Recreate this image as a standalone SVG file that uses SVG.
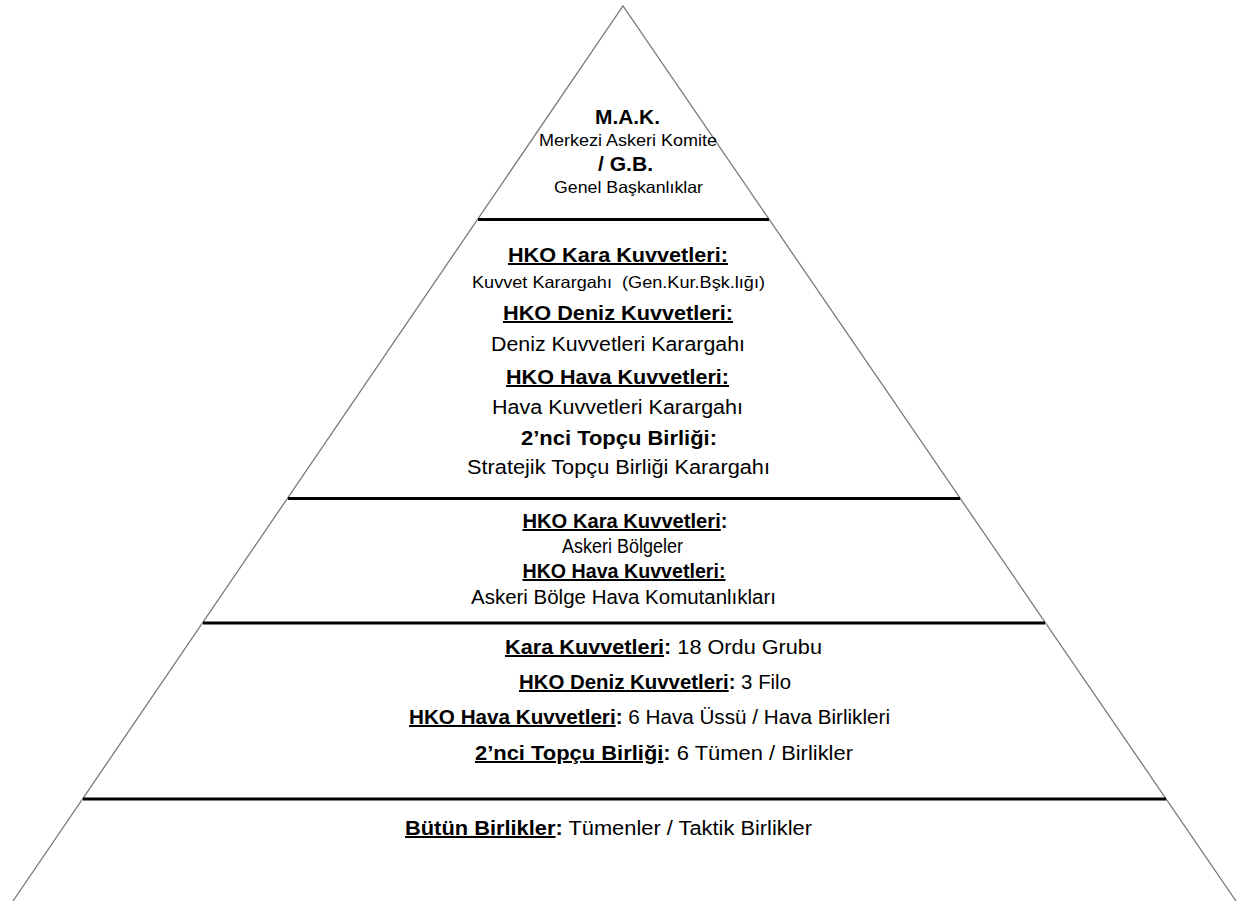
<svg xmlns="http://www.w3.org/2000/svg" width="1245" height="901" viewBox="0 0 1245 901">
<style>
text{font-family:"Liberation Sans",Arial,sans-serif;fill:#000;text-anchor:middle}
.b{font-weight:bold}
.u{text-decoration:underline}
.edge{fill:none;stroke:#7a7a7a;stroke-width:1.3}
.sep{stroke:#000;stroke-width:3;fill:none}
.s16{font-size:16.5px}
.s19{font-size:20px}
.s20{font-size:21px}
</style>
<rect width="1245" height="901" fill="#fff"/>
<g id="pyramid">
<polyline class="edge" points="13,901 623,6 1236,901"/>
<line class="sep" x1="478" y1="219.5" x2="769" y2="219.5"/>
<line class="sep" x1="288" y1="498.5" x2="960" y2="498.5"/>
<line class="sep" x1="203" y1="623" x2="1045" y2="623"/>
<line class="sep" x1="83" y1="799" x2="1166" y2="799"/>
</g>
<g id="level1">
<text class="s20 b" x="627.5" y="124" textLength="65" lengthAdjust="spacingAndGlyphs">M.A.K.</text>
<text class="s16" x="628" y="146" textLength="178" lengthAdjust="spacingAndGlyphs">Merkezi Askeri Komite</text>
<text class="s20 b" x="625.5" y="171" textLength="55" lengthAdjust="spacingAndGlyphs">/ G.B.</text>
<text class="s16" x="628.5" y="193" textLength="149" lengthAdjust="spacingAndGlyphs">Genel Başkanlıklar</text>
</g>
<g id="level2">
<text class="s19 b u" x="618" y="262" textLength="220" lengthAdjust="spacingAndGlyphs">HKO Kara Kuvvetleri:</text>
<text class="s16" x="618.5" y="288" textLength="293" lengthAdjust="spacingAndGlyphs" xml:space="preserve">Kuvvet Karargahı  (Gen.Kur.Bşk.lığı)</text>
<text class="s19 b u" x="618" y="320" textLength="230" lengthAdjust="spacingAndGlyphs">HKO Deniz Kuvvetleri:</text>
<text class="s19" x="618" y="351" textLength="254" lengthAdjust="spacingAndGlyphs">Deniz Kuvvetleri Karargahı</text>
<text class="s19 b u" x="617.5" y="384" textLength="223" lengthAdjust="spacingAndGlyphs">HKO Hava Kuvvetleri:</text>
<text class="s19" x="617.5" y="414" textLength="251" lengthAdjust="spacingAndGlyphs">Hava Kuvvetleri Karargahı</text>
<text class="s19 b" x="619" y="445" textLength="196" lengthAdjust="spacingAndGlyphs">2’nci Topçu Birliği:</text>
<text class="s19" x="618.5" y="474" textLength="303" lengthAdjust="spacingAndGlyphs">Stratejik Topçu Birliği Karargahı</text>
</g>
<g id="level3">
<text class="s19 b" x="625" y="528" textLength="205" lengthAdjust="spacingAndGlyphs"><tspan class="u">HKO Kara Kuvvetleri</tspan>:</text>
<text class="s19" x="622.5" y="553" textLength="121" lengthAdjust="spacingAndGlyphs">Askeri Bölgeler</text>
<text class="s19 b u" x="624" y="578" textLength="203" lengthAdjust="spacingAndGlyphs">HKO Hava Kuvvetleri:</text>
<text class="s19" x="623.5" y="604" textLength="305" lengthAdjust="spacingAndGlyphs">Askeri Bölge Hava Komutanlıkları</text>
</g>
<g id="level4">
<text class="s19" x="663.5" y="654" textLength="317" lengthAdjust="spacingAndGlyphs"><tspan class="b u">Kara Kuvvetleri</tspan><tspan class="b">:</tspan> 18 Ordu Grubu</text>
<text class="s19" x="655" y="689" textLength="272" lengthAdjust="spacingAndGlyphs"><tspan class="b u">HKO Deniz Kuvvetleri</tspan><tspan class="b">:</tspan> 3 Filo</text>
<text class="s19" x="649.5" y="724" textLength="481" lengthAdjust="spacingAndGlyphs"><tspan class="b u">HKO Hava Kuvvetleri</tspan><tspan class="b">:</tspan> 6 Hava Üssü / Hava Birlikleri</text>
<text class="s19" x="664" y="760" textLength="378" lengthAdjust="spacingAndGlyphs"><tspan class="b u">2’nci Topçu Birliği</tspan><tspan class="b">:</tspan> 6 Tümen / Birlikler</text>
</g>
<g id="level5">
<text class="s19" x="608.5" y="835" textLength="407" lengthAdjust="spacingAndGlyphs"><tspan class="b u">Bütün Birlikler</tspan><tspan class="b">:</tspan> Tümenler / Taktik Birlikler</text>
</g>
<g id="connectors"/>
</svg>
